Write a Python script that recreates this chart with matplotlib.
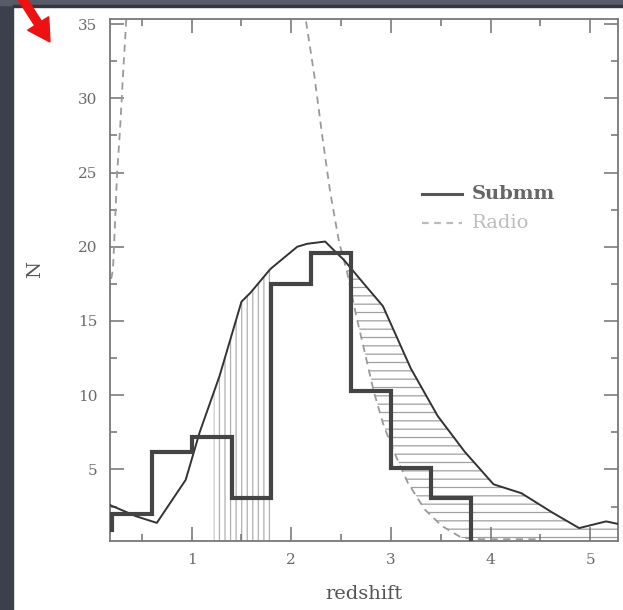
import numpy as np
import matplotlib.pyplot as plt
from matplotlib.patches import Rectangle, FancyArrow

plt.rcParams['font.family'] = ['DejaVu Serif']
plt.rcParams['hatch.linewidth'] = 0.9

# submm histogram (bin edges and counts)
hist_edges = [-0.2, 0.2, 0.6, 1.0, 1.4, 1.8, 2.2, 2.6, 3.0, 3.4, 3.8]
hist_counts = [0.9, 2.0, 6.2, 7.2, 3.1, 17.5, 19.6, 10.3, 5.1, 3.1]

# smooth submm model curve
model_z = [0.18, 0.32, 0.44, 0.65, 0.94, 1.08, 1.28, 1.50, 1.59, 1.79, 2.06, 2.16, 2.34,
           2.43, 2.53, 2.73, 2.92, 3.20, 3.47, 3.74, 4.03, 4.31, 4.62, 4.89, 5.16, 5.30]
model_n = [2.6, 2.2, 1.85, 1.4, 4.3, 7.5, 11.3, 16.3, 16.9, 18.5, 20.0, 20.2, 20.35,
           19.75, 19.1, 17.5, 16.0, 11.8, 8.6, 6.2, 4.0, 3.4, 2.1, 1.05, 1.5, 1.3]

# radio curve, low-z and high-z branches (peak is off the top)
radio_lo_z = [0.17, 0.21, 0.23, 0.25, 0.28, 0.31, 0.345]
radio_lo_n = [17.0, 18.5, 21.5, 24.8, 27.8, 31.5, 35.5]
radio_hi_z = [2.12, 2.15, 2.23, 2.31, 2.39, 2.48, 2.56, 2.65, 2.73, 2.83, 2.93, 3.05,
              3.17, 3.34, 3.51, 3.71, 3.90, 4.45, 4.60, 5.40]
radio_hi_n = [36.0, 35.1, 31.6, 27.5, 23.7, 20.3, 18.3, 15.4, 13.1, 10.2, 7.9, 5.9,
              4.1, 2.3, 1.2, 0.4, 0.3, 0.3, 0.0, 0.0]

xticks = [1, 2, 3, 4, 5]
yticks = [5, 10, 15, 20, 25, 30, 35]

fig = plt.figure(figsize=(6.23, 6.10), dpi=100, facecolor='white')

# dark slide background strips
fig.patches.append(Rectangle((0, 0), 13 / 623, 1, transform=fig.transFigure,
                             color='#3b404c', zorder=0))
fig.patches.append(Rectangle((0, 1 - 5 / 610), 1, 5 / 610, transform=fig.transFigure,
                             color='#565b67', zorder=0))
fig.patches.append(Rectangle((13 / 623, 1 - 7 / 610), 1, 2 / 610, transform=fig.transFigure,
                             color='#34373e', zorder=0))

ax = fig.add_axes([110 / 623, 69 / 610, 508 / 623, 522 / 610])

# vertical hatch under the model between z=1.22 and 1.8
mz = np.array(model_z)
mn = np.array(model_n)
inside = (mz > 1.22) & (mz < 1.8)
vz = np.concatenate([[1.22], mz[inside], [1.8]])
vn = np.interp(vz, mz, mn)
ax.fill(np.concatenate([vz, [1.8, 1.22]]), np.concatenate([vn, [0, 0]]),
        facecolor='none', edgecolor='#b0b0b0', linewidth=0, hatch='|||', zorder=1)

# horizontal hatch between the model and the radio curve
hz = np.array(radio_hi_z)
hn = np.array(radio_hi_n)
top = mz >= 2.53
bot = hz >= 2.56
px = np.concatenate([mz[top], [5.4], hz[bot][::-1]])
py = np.concatenate([mn[top], [0.0], hn[bot][::-1]])
ax.fill(px, py, facecolor='none', edgecolor='#a0a0a0', linewidth=0, hatch='--', zorder=1)

ax.plot(radio_lo_z, radio_lo_n, color='#9a9a9a', lw=1.3, dashes=(4, 3), zorder=2)
ax.plot(radio_hi_z, radio_hi_n, color='#9a9a9a', lw=1.3, dashes=(4, 3), zorder=2)
ax.plot(model_z, model_n, color='#333333', lw=1.4, zorder=3)
ax.stairs(hist_counts, hist_edges, color='#444444', lw=3.0, zorder=4)

ax.set_xlim(0.18, 5.28)
ax.set_ylim(0.18, 35.34)
ax.set_xticks(xticks)
ax.set_yticks(yticks)
ax.set_xticks(np.arange(0.5, 5.3, 0.5), minor=True)
ax.set_yticks(np.arange(2.5, 35.3, 2.5), minor=True)
ax.tick_params(which='both', direction='in', top=True, right=True, color='#707070', width=1.1)
ax.tick_params(which='major', length=10, labelsize=11, labelcolor='#6a6a6a', pad=9)
ax.tick_params(which='minor', length=5)
for s in ax.spines.values():
    s.set_color('#787878')
    s.set_linewidth(1.3)

ax.set_xlabel('redshift', fontsize=14, color='#555555')
ax.xaxis.set_label_coords(0.5, -0.085)
ax.set_ylabel('N', fontsize=14, color='#555555')
ax.yaxis.set_label_coords(-0.13, 0.52)

# legend drawn by hand
ax.plot([0.614, 0.693], [0.665, 0.665], transform=ax.transAxes, color='#555555', lw=2.2)
ax.plot([0.614, 0.693], [0.609, 0.609], transform=ax.transAxes, color='#bbbbbb', lw=1.6,
        dashes=(3, 2.5))
ax.text(0.712, 0.665, 'Submm', transform=ax.transAxes, fontsize=14, color='#666666',
        va='center', fontweight='bold')
ax.text(0.712, 0.609, 'Radio', transform=ax.transAxes, fontsize=14, color='#bdbdbd',
        va='center')

# red pointer arrow in the corner
fig.patches.append(FancyArrow(0.18, 6.18, 0.32, -0.50, width=0.08, head_width=0.25,
                              head_length=0.22, length_includes_head=True,
                              transform=fig.dpi_scale_trans, color='#ee1111', zorder=5))

fig.savefig('out.png', dpi=100)
